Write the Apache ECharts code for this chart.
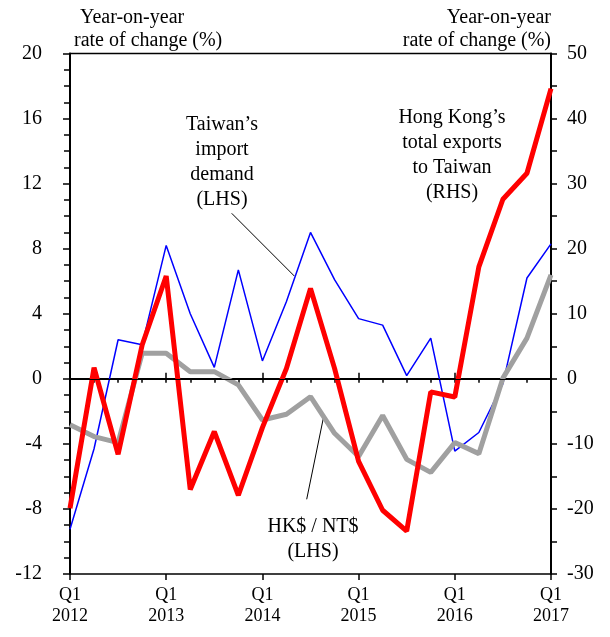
<!DOCTYPE html>
<html><head><meta charset="utf-8">
<script src="https://cdn.jsdelivr.net/npm/echarts@6/dist/echarts.min.js"></script>
<style>html,body{margin:0;padding:0;background:#fff}#c{width:610px;height:637px}</style>
</head><body><div id="c"></div><script>
const quarters = ['Q1 2012','Q2 2012','Q3 2012','Q4 2012','Q1 2013','Q2 2013','Q3 2013','Q4 2013',
  'Q1 2014','Q2 2014','Q3 2014','Q4 2014','Q1 2015','Q2 2015','Q3 2015','Q4 2015',
  'Q1 2016','Q2 2016','Q3 2016','Q4 2016','Q1 2017'];
const taiwanImportDemand = [-9.25,-4.3,2.4,2.1,8.2,4.0,0.7,6.7,1.1,4.75,9.0,6.1,3.7,3.3,0.2,2.5,-4.45,-3.3,-0.3,6.2,8.3];
const hkExportsToTaiwan = [-19.9,1.7,-11.6,5.2,15.8,-17.0,-8.1,-17.9,-7.5,1.6,13.9,1.6,-12.7,-20.2,-23.4,-2.0,-2.8,17.2,27.6,31.6,44.6];
const hkdPerNtd = [-2.83,-3.55,-3.92,1.57,1.57,0.44,0.44,-0.37,-2.53,-2.18,-1.1,-3.35,-4.78,-2.26,-4.95,-5.75,-3.92,-4.6,0.04,2.5,6.39];
const lhsTicks = {min:-12, max:20, interval:4};
const rhsTicks = {min:-30, max:50, interval:10};

const FONT = "'Liberation Serif','Times New Roman',serif";
const chart = echarts.init(document.getElementById('c'));
const txt = (t, x, y, align) => ({type:'text', x:x, y:y,
  style:{text:t, font:'20px '+FONT, fill:'#000', align:align||'center', verticalAlign:'middle', lineHeight:25}});
const baseX = {type:'category', data:quarters, boundaryGap:false, gridIndex:0};
chart.setOption({
  animation:false,
  grid:{left:70, right:59, top:53.5, bottom:63, show:true, borderColor:'#000', borderWidth:1.5, backgroundColor:'transparent'},
  xAxis:[
    Object.assign({}, baseX, {position:'bottom',
      axisLine:{lineStyle:{color:'#000', width:2}},
      axisTick:{show:true, interval:0, length:4, inside:false, lineStyle:{color:'#000', width:1.5}},
      axisLabel:{interval:3, margin:11, color:'#000', fontFamily:FONT, fontSize:18, lineHeight:21,
        formatter:(v)=>v.replace(' ','\n')},
      splitLine:{show:false}}),
    Object.assign({}, baseX, {position:'bottom',
      axisLine:{show:false},
      axisTick:{show:true, interval:3, length:6, inside:true, lineStyle:{color:'#000', width:1.5}},
      axisLabel:{show:false}, splitLine:{show:false}}),
    Object.assign({}, baseX, {position:'bottom',
      axisLine:{show:false},
      axisTick:{show:true, interval:3, length:6, inside:false, lineStyle:{color:'#000', width:1.5}},
      axisLabel:{show:false}, splitLine:{show:false}})
  ],
  yAxis:[
    Object.assign({type:'value', position:'left'}, lhsTicks, {
      axisLine:{show:true, lineStyle:{color:'#000', width:2}},
      axisTick:{show:true, length:7, lineStyle:{color:'#000', width:1.5}},
      minorTick:{show:true, splitNumber:4, length:6, lineStyle:{color:'#000', width:1.5}},
      axisLabel:{margin:28, color:'#000', fontFamily:FONT, fontSize:20},
      splitLine:{show:false}}),
    Object.assign({type:'value', position:'right'}, rhsTicks, {
      axisLine:{show:true, lineStyle:{color:'#000', width:2}},
      axisTick:{show:true, length:6, lineStyle:{color:'#000', width:1.5}},
      minorTick:{show:true, splitNumber:2, length:6, lineStyle:{color:'#000', width:1.5}},
      axisLabel:{margin:16, color:'#000', fontFamily:FONT, fontSize:20},
      splitLine:{show:false}})
  ],
  series:[
    {name:"Taiwan's import demand (LHS)", type:'line', data:taiwanImportDemand, yAxisIndex:0,
      symbol:'none', lineStyle:{color:'#0000ff', width:1.5}, z:2,
      markLine:{silent:true, symbol:'none', label:{show:false}, lineStyle:{color:'#000', width:1.2, type:'solid'},
        data:[{yAxis:0}]}},
    {name:'HK$ / NT$ (LHS)', type:'line', data:hkdPerNtd, yAxisIndex:0,
      symbol:'none', lineStyle:{color:'#a0a0a0', width:5}, z:3},
    {name:"Hong Kong's total exports to Taiwan (RHS)", type:'line', data:hkExportsToTaiwan, yAxisIndex:1,
      symbol:'none', lineStyle:{color:'#ff0000', width:5}, z:4}
  ],
  graphic:[
    txt('Year-on-year', 80, 18, 'left'),
    txt('rate of change (%)', 74, 41, 'left'),
    txt('Year-on-year', 551, 18, 'right'),
    txt('rate of change (%)', 551, 41, 'right'),
    txt('Taiwan\u2019s\nimport\ndemand\n(LHS)', 222, 162),
    txt('Hong Kong\u2019s\ntotal exports\nto Taiwan\n(RHS)', 452, 155),
    txt('HK$ / NT$\n(LHS)', 313, 539),
    {type:'line', shape:{x1:231.7, y1:213.3, x2:294.3, y2:276}, style:{stroke:'#000', lineWidth:1}},
    {type:'line', shape:{x1:306.7, y1:499.3, x2:323.3, y2:418.3}, style:{stroke:'#000', lineWidth:1}}
  ]
});
</script></body></html>
